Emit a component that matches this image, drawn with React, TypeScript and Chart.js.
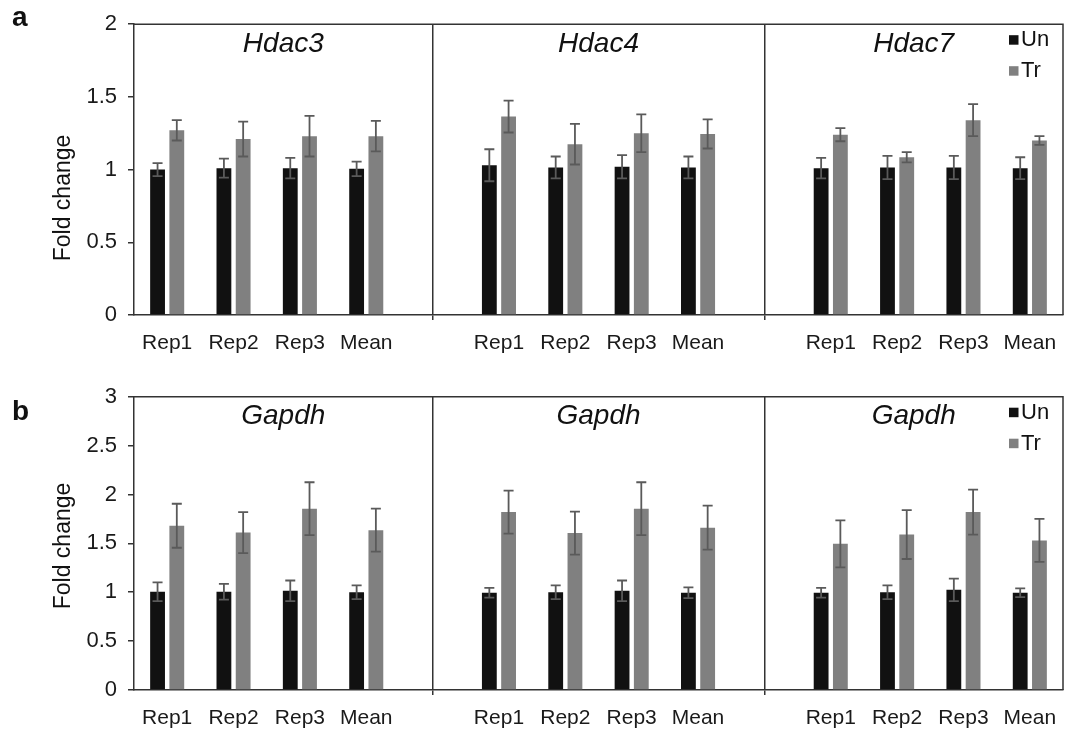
import React, { useEffect, useRef } from "react";
import { Chart, registerables } from "chart.js";

Chart.register(...registerables);

const FONT = "'Liberation Sans', Arial, Helvetica, sans-serif";

// ---------- data ----------
const categories = ["Rep1", "Rep2", "Rep3", "Mean", "", "Rep1", "Rep2", "Rep3", "Mean", "", "Rep1", "Rep2", "Rep3", "Mean"];
const seriesNames = ["Un", "Tr"];
const seriesColors = ["#111111", "#808080"];

const panelATitles = ["Hdac3", "Hdac4", "Hdac7"];
const panelAUn = [1.0, 1.01, 1.01, 1.005, null, 1.03, 1.015, 1.02, 1.015, null, 1.01, 1.015, 1.015, 1.01];
const panelAUnErr = [0.045, 0.065, 0.07, 0.05, null, 0.11, 0.075, 0.08, 0.075, null, 0.07, 0.08, 0.08, 0.075];
const panelATr = [1.27, 1.21, 1.23, 1.23, null, 1.365, 1.175, 1.25, 1.245, null, 1.24, 1.085, 1.34, 1.2];
const panelATrErr = [0.07, 0.12, 0.14, 0.105, null, 0.11, 0.14, 0.13, 0.1, null, 0.045, 0.035, 0.11, 0.03];

const panelBTitles = ["Gapdh", "Gapdh", "Gapdh"];
const panelBUn = [1.005, 1.005, 1.015, 1.0, null, 0.995, 1.0, 1.015, 0.995, null, 0.995, 1.0, 1.025, 0.995];
const panelBUnErr = [0.095, 0.08, 0.105, 0.07, null, 0.05, 0.07, 0.105, 0.055, null, 0.05, 0.07, 0.115, 0.045];
const panelBTr = [1.68, 1.61, 1.855, 1.635, null, 1.82, 1.605, 1.855, 1.66, null, 1.495, 1.59, 1.82, 1.53];
const panelBTrErr = [0.225, 0.21, 0.27, 0.22, null, 0.22, 0.22, 0.27, 0.225, null, 0.24, 0.25, 0.23, 0.22];

const yAxisTitle = "Fold change";
const yStep = 0.5;

// ---------- decoration plugin (error bars, frame, titles, legend) ----------
const decorPlugin = {
  id: "panelDecor",
  afterDatasetsDraw(chart: any, _args: any, opts: any) {
    const { ctx, chartArea: a } = chart;
    const xs = chart.scales.x;
    const ys = chart.scales.y;
    ctx.save();

    // error bars
    chart.data.datasets.forEach((ds: any, di: number) => {
      const meta = chart.getDatasetMeta(di);
      const errs = opts.errors[di];
      meta.data.forEach((el: any, i: number) => {
        const v = ds.data[i];
        const e = errs[i];
        if (v == null || e == null) return;
        const x = el.x;
        const y1 = ys.getPixelForValue(v + e);
        const y2 = ys.getPixelForValue(v - e);
        ctx.strokeStyle = "#5a5a5a";
        ctx.lineWidth = 1.8;
        ctx.beginPath();
        ctx.moveTo(x, y1);
        ctx.lineTo(x, y2);
        ctx.moveTo(x - 5, y1);
        ctx.lineTo(x + 5, y1);
        ctx.moveTo(x - 5, y2);
        ctx.lineTo(x + 5, y2);
        ctx.stroke();
      });
    });

    // frame top/right
    ctx.strokeStyle = "#333333";
    ctx.lineWidth = 1.5;
    ctx.beginPath();
    ctx.moveTo(a.left, a.top);
    ctx.lineTo(a.right, a.top);
    ctx.lineTo(a.right, a.bottom);
    ctx.stroke();

    // gene titles centred over each group
    const dividers: number[] = [];
    categories.forEach((c, i) => {
      if (c === "") dividers.push(xs.getPixelForValue(i));
    });
    const bounds = [a.left, ...dividers, a.right];
    ctx.fillStyle = "#111111";
    ctx.font = `italic 28px ${FONT}`;
    ctx.textAlign = "center";
    ctx.textBaseline = "middle";
    opts.titles.forEach((t: string, k: number) => {
      ctx.fillText(t, (bounds[k] + bounds[k + 1]) / 2, a.top + 20);
    });

    // legend
    ctx.font = `22px ${FONT}`;
    ctx.textAlign = "left";
    chart.data.datasets.forEach((ds: any, di: number) => {
      const sy = a.top + 11 + di * 31;
      ctx.fillStyle = ds.backgroundColor;
      ctx.fillRect(a.right - 54, sy, 9.5, 9.5);
      ctx.fillStyle = "#111111";
      ctx.fillText(ds.label, a.right - 42, sy + 5);
    });

    // panel letter
    ctx.font = `bold 28px ${FONT}`;
    ctx.textBaseline = "alphabetic";
    ctx.fillText(opts.letter, 12, opts.letterY);

    // y axis title
    ctx.save();
    ctx.translate(64, opts.yTitleY);
    ctx.rotate(-Math.PI / 2);
    ctx.font = `23px ${FONT}`;
    ctx.textAlign = "center";
    ctx.textBaseline = "middle";
    ctx.fillStyle = "#111111";
    ctx.fillText(yAxisTitle, 0, 0);
    ctx.restore();

    ctx.restore();
  },
};

type Panel = {
  titles: string[];
  un: (number | null)[];
  unErr: (number | null)[];
  tr: (number | null)[];
  trErr: (number | null)[];
  yMax: number;
  letter: string;
  top: number;
  xHeight: number;
  letterY: number;
  yTitleY: number;
};

const panelA: Panel = {
  titles: panelATitles,
  un: panelAUn,
  unErr: panelAUnErr,
  tr: panelATr,
  trErr: panelATrErr,
  yMax: 2,
  letter: "a",
  top: 21.5,
  xHeight: 50,
  letterY: 26,
  yTitleY: 198,
};

const panelB: Panel = {
  titles: panelBTitles,
  un: panelBUn,
  unErr: panelBUnErr,
  tr: panelBTr,
  trErr: panelBTrErr,
  yMax: 3,
  letter: "b",
  top: 31.7,
  xHeight: 39,
  letterY: 55,
  yTitleY: 181,
};

function makeConfig(p: Panel): any {
  const barOpts = { categoryPercentage: 0.58, barPercentage: 0.77 };
  return {
    type: "bar",
    data: {
      labels: categories,
      datasets: [
        { label: seriesNames[0], data: p.un, backgroundColor: seriesColors[0], ...barOpts },
        { label: seriesNames[1], data: p.tr, backgroundColor: seriesColors[1], ...barOpts },
      ],
    },
    options: {
      responsive: false,
      animation: false,
      devicePixelRatio: 1,
      layout: { padding: { left: 0, right: 7, top: p.top, bottom: 0 } },
      plugins: {
        legend: { display: false },
        tooltip: { enabled: false },
        panelDecor: {
          errors: [p.unErr, p.trErr],
          titles: p.titles,
          letter: p.letter,
          letterY: p.letterY,
          yTitleY: p.yTitleY,
        },
      },
      scales: {
        x: {
          offset: true,
          grid: {
            display: true,
            offset: false,
            drawOnChartArea: true,
            drawTicks: true,
            tickLength: 5,
            lineWidth: 1.5,
            color: (c: any) => (categories[c.index] === "" ? "#333333" : "rgba(0,0,0,0)"),
          },
          border: { display: true, color: "#333333", width: 1.5 },
          ticks: {
            autoSkip: false,
            maxRotation: 0,
            minRotation: 0,
            padding: 11,
            color: "#1a1a1a",
            font: { family: FONT, size: 21 },
          },
          afterFit: (s: any) => {
            s.height = p.xHeight;
          },
        },
        y: {
          min: 0,
          max: p.yMax,
          ticks: {
            stepSize: yStep,
            padding: 11,
            color: "#1a1a1a",
            font: { family: FONT, size: 22 },
            callback: (v: any) => String(Math.round(Number(v) * 100) / 100),
          },
          grid: {
            display: true,
            drawOnChartArea: false,
            drawTicks: true,
            tickLength: 6,
            color: "#333333",
            lineWidth: 1.5,
          },
          border: { display: true, color: "#333333", width: 1.5 },
          afterFit: (s: any) => {
            s.width = 134;
          },
        },
      },
    },
    plugins: [decorPlugin],
  };
}

function PanelChart({ spec, height }: { spec: Panel; height: number }) {
  const ref = useRef<HTMLCanvasElement>(null);
  useEffect(() => {
    const chart = new Chart(ref.current as HTMLCanvasElement, makeConfig(spec));
    return () => chart.destroy();
  }, [spec]);
  return (
    <canvas
      ref={ref}
      width={1070}
      height={height}
      style={{ display: "block", width: 1070, height }}
    />
  );
}

export default function App() {
  return (
    <div
      style={{
        position: "absolute",
        left: 0,
        top: 0,
        width: 1070,
        height: 729,
        background: "#ffffff",
        overflow: "hidden",
      }}
    >
      <PanelChart spec={panelA} height={365} />
      <PanelChart spec={panelB} height={364} />
    </div>
  );
}
